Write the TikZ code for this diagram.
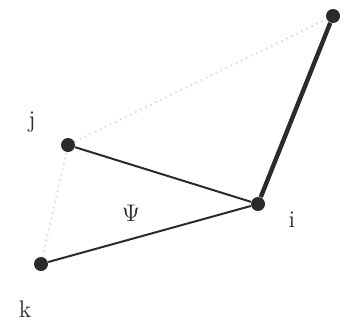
\documentclass[tikz,border=0pt]{standalone}
\usepackage{tikz}
\usetikzlibrary{positioning}
\definecolor{tdink}{HTML}{2B2B2B}
\definecolor{tdfaint}{HTML}{D6D6D6}
\tikzstyle{tdatom}=[circle,fill=tdink,draw=none,inner sep=0pt,minimum size=7pt]
\tikzstyle{tdbond}=[draw=tdink,line width=1pt]
\tikzstyle{tdaxis}=[draw=tdink,line width=2.2pt]
\tikzstyle{tdhint}=[draw=tdfaint,dotted,line width=0.8pt]
\tikzstyle{tdlabel}=[text=tdink,font=\large,inner sep=1pt]

\begin{document}
\begin{tikzpicture}[x=0.5pt,y=-0.5pt]
    \useasboundingbox (0,0) rectangle (358,322);
    \node[tdatom] (j) at (68,145) {};
    \node[tdatom] (i) at (258,204) {};
    \node[tdatom] (k) at (41,264) {};
    \node[tdatom] (l) at (333,16) {};
    \draw[tdhint] (j) -- (l);
    \draw[tdhint] (j) -- (k);
    \draw[tdbond] (j) -- (i);
    \draw[tdbond] (k) -- (i);
    \draw[tdaxis] (i) -- (l);
    \node[tdlabel] (jlab) at (32,122) {j};
    \node[tdlabel] (ilab) at (292,220) {i};
    \node[tdlabel] (klab) at (25,309) {k};
    \node[tdlabel] (psi) at (131,213) {$\Psi$};
  \end{tikzpicture}
\end{document}
